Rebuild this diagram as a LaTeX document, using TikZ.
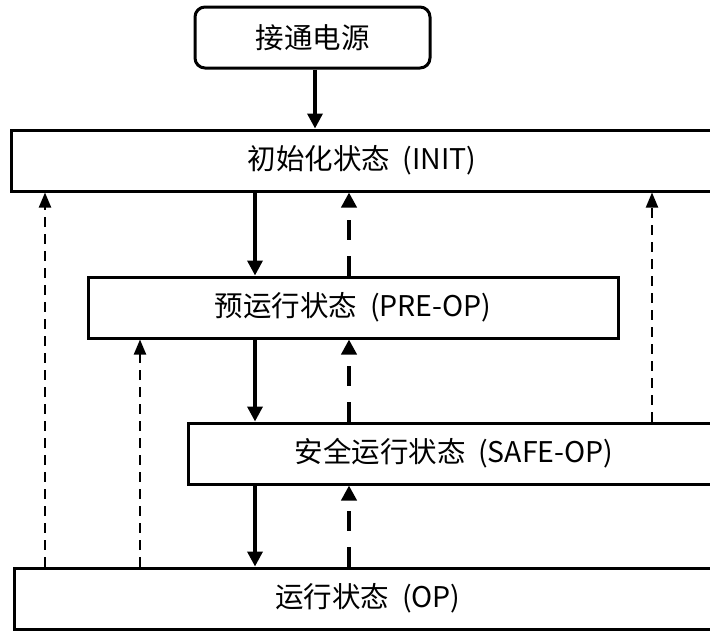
\documentclass[tikz,border=0pt]{standalone}
\usepackage{fontspec}
\setmainfont{Noto Sans CJK SC}
\usetikzlibrary{arrows.meta}
\begin{document}
\begin{tikzpicture}[x=1pt,y=-1pt,
  statebox/.style={draw=black,line width=3pt,fill=white,inner sep=0pt,font=\fontsize{28.5}{32}\selectfont},
  solidarr/.style={line width=3.5pt,-{Triangle[width=15pt,length=15pt]}},
  thickdash/.style={line width=4pt,dash pattern=on 20pt off 16pt,-{Triangle[width=15pt,length=15pt]}},
  thindash/.style={line width=2pt,dash pattern=on 10pt off 7pt,-{Triangle[width=12pt,length=15pt]}}]
\useasboundingbox (0,0) rectangle (710,630);
\clip (0,0) rectangle (710,630);
\node[statebox,rounded corners=10pt,minimum width=235pt,minimum height=61pt] (power) at (312.5,37.5) {\raisebox{-2pt}{接通电源}};
\node[statebox,minimum width=702pt,minimum height=61pt] (init) at (362,160.5) {\raisebox{-2pt}{初始化状态\ \ (INIT)}};
\node[statebox,minimum width=530pt,minimum height=61pt] (pre) at (353,307.5) {\raisebox{-2pt}{预运行状态\ \ (PRE-OP)}};
\node[statebox,minimum width=532pt,minimum height=61pt] (safe) at (454,453.5) {\raisebox{-2pt}{安全运行状态\ \ (SAFE-OP)}};
\node[statebox,minimum width=708pt,minimum height=61pt] (op) at (368,598.5) {\raisebox{-2pt}{运行状态\ \ (OP)}};
% power on
\draw[solidarr] (power.south -| 315,0) -- (init.north -| 315,0);
% forward transitions
\draw[solidarr] (init.south -| 255,0) -- (pre.north -| 255,0);
\draw[solidarr] (pre.south -| 255,0) -- (safe.north -| 255,0);
\draw[solidarr] (safe.south -| 255,0) -- (op.north -| 255,0);
% backward one step
\draw[thickdash] (pre.north -| 349,0) -- (init.south -| 349,0);
\draw[thickdash] (safe.north -| 349,0) -- (pre.south -| 349,0);
\draw[thickdash] (op.north -| 349,0) -- (safe.south -| 349,0);
% backward multi step
\draw[thindash] (op.north -| 45,0) -- (init.south -| 45,0);
\draw[thindash] (op.north -| 140,0) -- (pre.south -| 140,0);
\draw[thindash] (safe.north -| 652,0) -- (init.south -| 652,0);
\end{tikzpicture}
\end{document}
